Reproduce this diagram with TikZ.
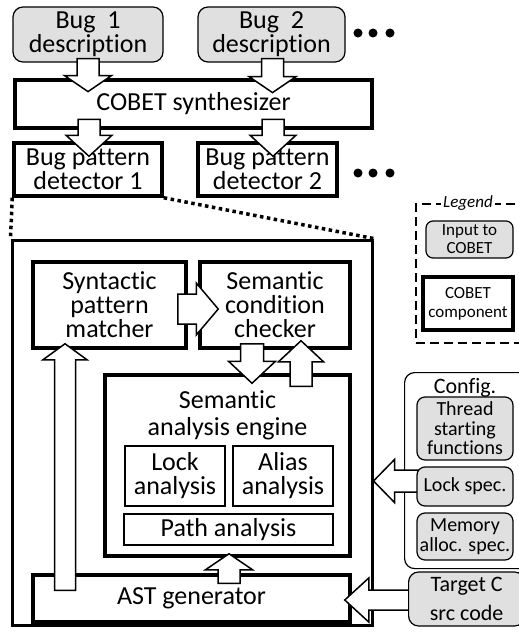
\documentclass[tikz,border=0pt]{standalone}
\usepackage{fontspec}
\setmainfont{Carlito}[Ligatures=NoCommon]
\usetikzlibrary{calc}

\definecolor{inputgray}{RGB}{224,224,224}

% Hollow block arrow: half shaft width, half head width, head length, tail, tip
\newcommand\blockarrow[5]{%
  \coordinate (ba-neck) at ($#5!#3!#4$);
  \draw[barrow] ($#4!#1!90:#5$) -- ($(ba-neck)!#1!90:#5$) -- ($(ba-neck)!#2!90:#5$)
    -- #5 -- ($(ba-neck)!#2!-90:#5$) -- ($(ba-neck)!#1!-90:#5$) -- ($#4!#1!-90:#5$) -- cycle;
}

\tikzset{
  mainfont/.style={font={\fontsize{26}{24}\selectfont}},
  inputbox/.style={draw, line width=1.2pt, rounded corners=10pt, fill=inputgray,
    inner sep=0pt, align=center, mainfont},
  compbox/.style={draw, line width=3.5pt, fill=white, inner sep=0pt, align=center, mainfont},
  subbox/.style={draw, line width=1.3pt, fill=white, inner sep=0pt, align=center, mainfont},
  bigbox/.style={draw, line width=3pt, inner sep=0pt},
  barrow/.style={draw, line width=1.5pt, fill=white, line join=miter},
  zoomline/.style={line width=3.5pt, dash pattern=on 3.5pt off 3.5pt},
  legendframe/.style={draw, line width=2pt, dash pattern=on 9pt off 5pt, inner sep=0pt},
  cfgframe/.style={draw, line width=1.2pt, rounded corners=10pt, inner sep=0pt},
  cfgitem/.style={draw, line width=1.2pt, rounded corners=8pt, fill=inputgray,
    inner sep=0pt, align=center, font={\fontsize{20}{19.5}\selectfont}},
  more/.style={fill=black},
}

\begin{document}
\begin{tikzpicture}[x=1pt, y=-1pt]
  \useasboundingbox (0,0) rectangle (519,635);
  \clip (0,0) rectangle (519,635);

  % top row: bug descriptions, synthesizer and detectors
  \node[inputbox, minimum width=150, minimum height=55] (bug1) at (88,34.5) {Bug\ \ 1\\description};
  \node[inputbox, minimum width=147, minimum height=55] (bug2) at (271.5,34.5) {Bug\ \ 2\\description};
  \node[compbox, minimum width=357, minimum height=48] (synth) at (193.5,104) {COBET synthesizer};
  \node[compbox, minimum width=148, minimum height=53] (det1) at (88,169.5) {Bug pattern\\detector 1};
  \node[compbox, minimum width=139, minimum height=53] (det2) at (267.5,169.5) {Bug pattern\\detector 2};

  \foreach \cx in {358,373,390} {
    \fill[more] (\cx,33) circle (4.5);
    \fill[more] (\cx,173) circle (4.5);
  }

  % expanded view of detector 1
  \node[bigbox, minimum width=360, minimum height=385] (big) at (192,432.5) {};
  \draw[zoomline] (det1.south west) -- (big.north west);
  \draw[zoomline] (det1.south east) -- (big.north east);

  \node[compbox, minimum width=153, minimum height=86] (syn) at (109.5,305) {Syntactic\\pattern\\matcher};
  \node[compbox, minimum width=150, minimum height=86] (chk) at (275,305) {Semantic\\condition\\checker};
  \node[compbox, minimum width=245, minimum height=181] (eng) at (227.5,465.5) {};
  \node[align=center, font={\fontsize{26}{27}\selectfont}] (engtitle) at (227.5,415) {Semantic\\analysis engine};
  \node[subbox, minimum width=100, minimum height=60] (lock) at (175,476) {Lock\\analysis};
  \node[subbox, minimum width=100, minimum height=60] (alias) at (283,476) {Alias\\analysis};
  \node[subbox, minimum width=209, minimum height=31] (path) at (228.5,529.5) {Path analysis};
  \node[compbox, minimum width=317, minimum height=47] (ast) at (191.5,598.5) {AST generator};

  % legend
  \node[legendframe, anchor=north west, minimum width=120, minimum height=139] (legend) at (415,203) {};
  \node[fill=white, inner xsep=2pt, inner ysep=0pt, font={\fontsize{17}{17}\selectfont\itshape}] (legtitle) at (468,203) {Legend};
  \node[inputbox, rounded corners=7pt, minimum width=87, minimum height=37,
        font={\fontsize{17}{18}\selectfont}] (leginput) at (469.5,239.5) {Input to\\COBET};
  \node[compbox, minimum width=90, minimum height=53,
        font={\fontsize{17}{19}\selectfont}] (legcomp) at (468,303.5) {COBET\\component};

  % configuration inputs
  \node[cfgframe, anchor=north west, minimum width=130, minimum height=196] (cfg) at (404,372) {};
  \node[font={\fontsize{22}{22}\selectfont}] (cfgtitle) at (465,388) {Config.};

  % arrows
  \blockarrow{11pt}{23.5pt}{16pt}{($(bug1.south)+(0,-4)$)}{($(bug1.south)+(0,29)$)}
  \blockarrow{11pt}{23.5pt}{16pt}{($(bug2.south)+(1,-4)$)}{($(bug2.south)+(1,30)$)}
  \blockarrow{11pt}{23pt}{21pt}{($(det1.north)+(1,-22)$)}{($(det1.north)+(1,15)$)}
  \blockarrow{11pt}{23pt}{21pt}{($(det2.north)+(5.5,-22)$)}{($(det2.north)+(5.5,15)$)}
  \blockarrow{15pt}{26pt}{22pt}{($(syn.east)+(-10,4)$)}{($(chk.west)+(20,4)$)}
  \blockarrow{11.5pt}{23.5pt}{22pt}{($(chk.south)+(-23,-6)$)}{($(eng.north)+(24.5,10)$)}
  \blockarrow{11pt}{22.5pt}{21pt}{($(eng.north)+(73.5,13)$)}{($(chk.south)+(26,-9)$)}
  \blockarrow{10.5pt}{22pt}{16pt}{($(ast.north)+(-126.5,17)$)}{($(syn.south)+(-44.5,-6)$)}
  \blockarrow{11pt}{23.5pt}{16pt}{($(ast.north)+(37.5,10)$)}{($(eng.south)+(1.5,-4)$)}
  \blockarrow{11pt}{21.5pt}{21pt}{($(big.east)+(45,48.5)$)}{($(big.east)+(0,48.5)$)}
  \blockarrow{10pt}{22pt}{24pt}{($(ast.east)+(65,1.5)$)}{($(ast.east)+(-7,1.5)$)}

  \node[cfgitem, minimum width=96, minimum height=63] (thread) at (465,428.5) {Thread\\starting\\functions};
  \node[cfgitem, minimum width=96, minimum height=39] (lspec) at (465,486.5) {Lock spec.};
  \node[cfgitem, minimum width=96, minimum height=47] (mem) at (465,536.5) {Memory\\alloc. spec.};

  \node[inputbox, anchor=west, minimum width=116, minimum height=54,
        font={\fontsize{22}{29}\selectfont}] (target) at (408,599) {Target C\\src code};
\end{tikzpicture}
\end{document}
